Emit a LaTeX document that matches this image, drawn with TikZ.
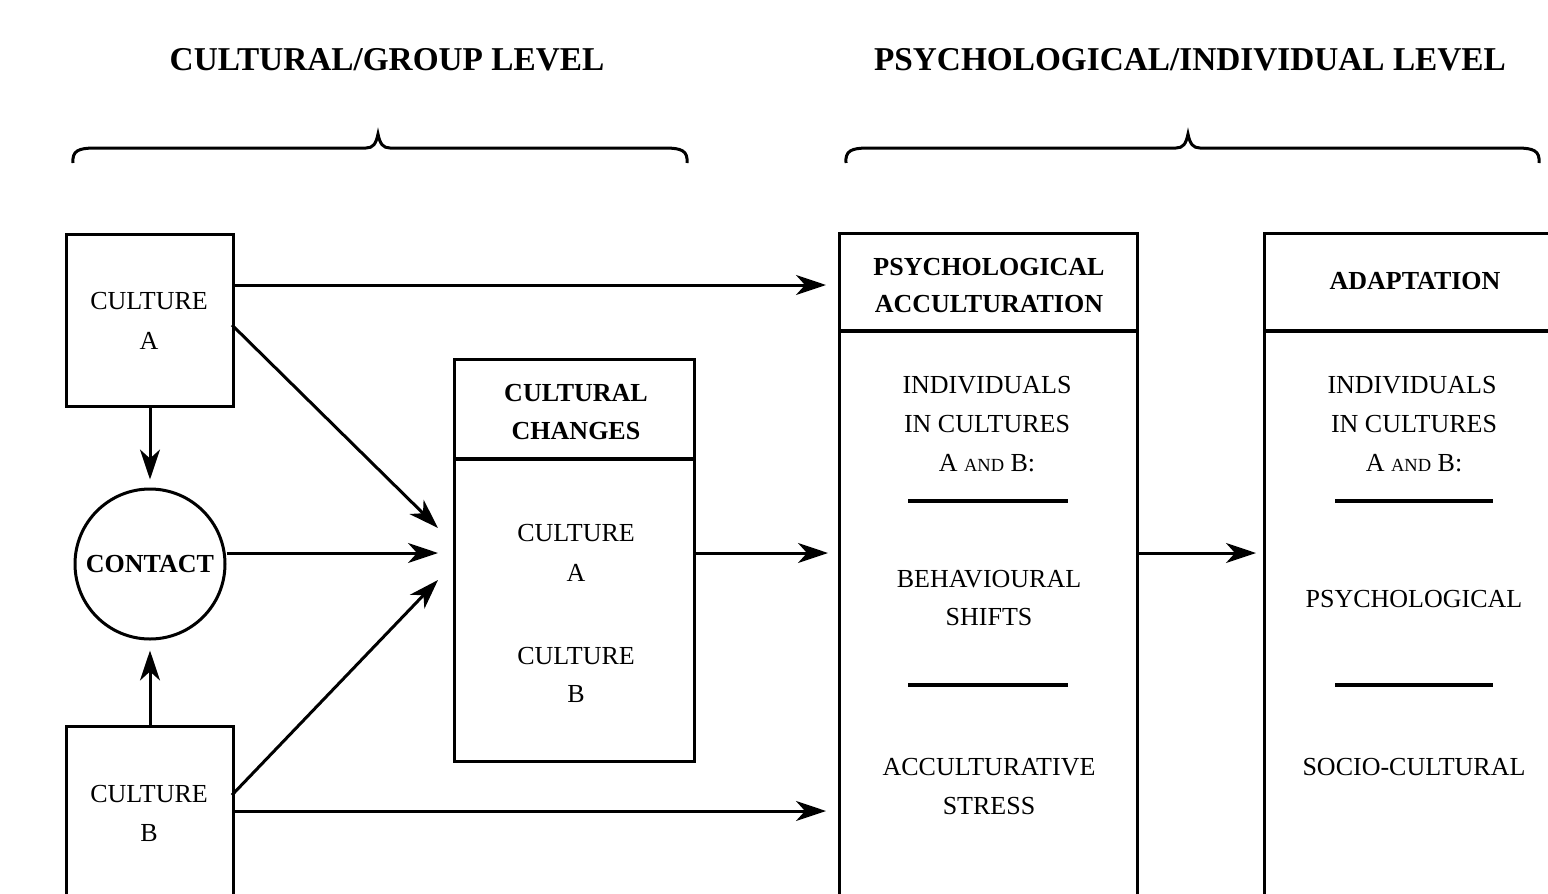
\documentclass[tikz,border=0pt]{standalone}
\usepackage{fontspec}
\setmainfont{Liberation Serif}
\usetikzlibrary{arrows.meta}
\begin{document}
\begin{tikzpicture}[x=1pt,y=-1pt, line width=3pt,
  box/.style={draw, line width=3pt, inner sep=0pt, anchor=north west},
  lbl/.style={font=\fontsize{26}{30}\selectfont, inner sep=0pt, anchor=base},
  hdr/.style={font=\fontsize{26}{30}\selectfont\bfseries, inner sep=0pt, anchor=base},
  ttl/.style={font=\fontsize{33.3}{38}\selectfont\bfseries, inner sep=0pt, anchor=base},
  arr/.style={-{Stealth[length=30pt,width=20pt,inset=9pt]}, line width=3pt},
  rule/.style={line width=3.2pt},
  brace/.style={line width=3pt}]
\useasboundingbox (0,0) rectangle (1548,894);
\clip (0,0) rectangle (1548,894);
\fill[white] (0,0) rectangle (1548,894);

% titles
\node[ttl] (t1) at (387,70) {CULTURAL/GROUP LEVEL};
\node[ttl] (t2) at (1190,70) {PSYCHOLOGICAL/INDIVIDUAL LEVEL};

% braces
\draw[brace] (73,163) .. controls (72,151) and (78,148) .. (95,148) -- (366,148)
  .. controls (373,148) and (376,144) .. (378,134)
  .. controls (380,144) and (383,148) .. (390,148) -- (665,148)
  .. controls (682,148) and (688,151) .. (687,163);
\draw[brace] (846,163) .. controls (845,151) and (851,148) .. (868,148) -- (1176,148)
  .. controls (1183,148) and (1186,144) .. (1188,134)
  .. controls (1190,144) and (1193,148) .. (1200,148) -- (1517,148)
  .. controls (1534,148) and (1540,151) .. (1539,163);

% culture boxes
\node[box, minimum width=167pt, minimum height=172pt] (cA) at (65,233) {};
\node[lbl] (cAt1) at (149,309) {CULTURE};
\node[lbl] (cAt2) at (149,349) {A};
\node[box, minimum width=167pt, minimum height=260pt] (cB) at (65,725) {};
\node[lbl] (cBt1) at (149,802) {CULTURE};
\node[lbl] (cBt2) at (149,841) {B};

% contact
\node[draw, circle, minimum size=150pt, inner sep=0pt, line width=3pt,
  font=\fontsize{26}{30}\selectfont\bfseries] (contact) at (150,564) {CONTACT};

% cultural changes
\node[box, minimum width=240pt, minimum height=402pt] (cc) at (453,358) {};
\draw[rule] (453,459) -- (693,459);
\node[hdr] (cch1) at (576,401) {CULTURAL};
\node[hdr] (cch2) at (576,439) {CHANGES};
\node[lbl] (ccb1) at (576,541) {CULTURE};
\node[lbl] (ccb2) at (576,581) {A};
\node[lbl] (ccb3) at (576,664) {CULTURE};
\node[lbl] (ccb4) at (576,702) {B};

% psychological acculturation
\node[box, minimum width=298pt, minimum height=720pt] (pa) at (838,232) {};
\draw[rule] (838,331) -- (1136,331);
\node[hdr] (pah1) at (989,275) {PSYCHOLOGICAL};
\node[hdr] (pah2) at (989,312) {ACCULTURATION};
\node[lbl] (pab1) at (987,393) {INDIVIDUALS};
\node[lbl] (pab2) at (987,432) {IN CULTURES};
\node[lbl] (pab3) at (987,471) {A {\fontsize{18.5}{20}\selectfont AND} B:};
\draw[rule] (908,501) -- (1068,501);
\node[lbl] (pab4) at (989,587) {BEHAVIOURAL};
\node[lbl] (pab5) at (989,625) {SHIFTS};
\draw[rule] (908,685) -- (1068,685);
\node[lbl] (pab6) at (989,775) {ACCULTURATIVE};
\node[lbl] (pab7) at (989,814) {STRESS};

% adaptation
\node[box, minimum width=320pt, minimum height=720pt] (ad) at (1263,232) {};
\draw[rule] (1263,331) -- (1583,331);
\node[hdr] (adh1) at (1415,289) {ADAPTATION};
\node[lbl] (adb1) at (1412,393) {INDIVIDUALS};
\node[lbl] (adb2) at (1414,432) {IN CULTURES};
\node[lbl] (adb3) at (1414,471) {A {\fontsize{18.5}{20}\selectfont AND} B:};
\draw[rule] (1335,501) -- (1493,501);
\node[lbl] (adb4) at (1414,607) {PSYCHOLOGICAL};
\draw[rule] (1335,685) -- (1493,685);
\node[lbl] (adb5) at (1414,775) {SOCIO-CULTURAL};

% coordinates for arrow ends
\coordinate (aOut1) at (232,285);
\coordinate (pIn1) at (826,285);
\coordinate (aOut2) at (232,325);
\coordinate (ccIn1) at (438,528);
\coordinate (ccIn2) at (438,553);
\coordinate (bOut1) at (232,795);
\coordinate (ccIn3) at (438,580);
\coordinate (bOut2) at (232,811);
\coordinate (pIn2) at (826,811);
\coordinate (ccOut) at (693,553);
\coordinate (pIn3) at (828,553);
\coordinate (paOut) at (1136,553);
\coordinate (adIn) at (1256,553);

% arrows
\draw[arr, shorten >=8pt] (cA.south) -- (cA.south |- contact.north);
\draw[arr, shorten >=10pt] (cB.north) -- (cB.north |- contact.south);
\draw[arr] (aOut1) -- (pIn1);
\draw[arr] (aOut2) -- (ccIn1);
\draw[arr] (contact.east |- ccIn2) -- (ccIn2);
\draw[arr] (bOut1) -- (ccIn3);
\draw[arr] (bOut2) -- (pIn2);
\draw[arr] (ccOut) -- (pIn3);
\draw[arr] (paOut) -- (adIn);
\end{tikzpicture}
\end{document}
